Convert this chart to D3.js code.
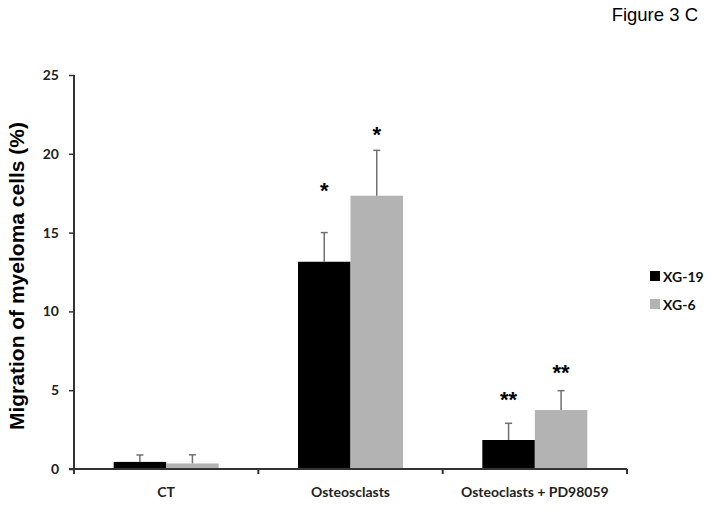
<!DOCTYPE html>
<html><head><meta charset="utf-8">
<script src="https://cdn.jsdelivr.net/npm/d3@7"></script>
<style>body{margin:0;background:#fff}</style>
</head><body>
<svg id="c" width="712" height="510"></svg>
<script>
const categories = ["CT", "Osteosclasts", "Osteoclasts + PD98059"];
const seriesNames = ["XG-19", "XG-6"];
const xg19 = [0.45, 13.15, 1.84];
const xg6 = [0.35, 17.34, 3.74];
const xg19Err = [0.44, 1.85, 1.06];
const xg6Err = [0.55, 2.88, 1.23];
const stars = [
  {cat: "Osteosclasts", s: "XG-19", label: "*", y: 17.9},
  {cat: "Osteosclasts", s: "XG-6", label: "*", y: 21.45},
  {cat: "Osteoclasts + PD98059", s: "XG-19", label: "**", y: 4.65},
  {cat: "Osteoclasts + PD98059", s: "XG-6", label: "**", y: 6.35}
];
const yTicks = [0, 5, 10, 15, 20, 25];
const colors = ["#000000", "#b3b3b3"];

const svg = d3.select("#c");
const x0 = 74, x1 = 627, y0 = 469, y1 = 75;
const x = d3.scaleBand().domain(categories).range([x0, x1]).paddingInner(0).paddingOuter(0);
const xs = d3.scaleBand().domain(seriesNames).range([0, 105]);
const y = d3.scaleLinear().domain([0, 25]).range([y0, y1]);
const barOff = (x.bandwidth() - 105) / 2;

const data = [];
categories.forEach((c, i) => {
  data.push({cat: c, s: "XG-19", v: xg19[i], e: xg19Err[i], col: colors[0]});
  data.push({cat: c, s: "XG-6", v: xg6[i], e: xg6Err[i], col: colors[1]});
});

// bars
svg.append("g").selectAll("rect").data(data).join("rect")
  .attr("x", d => x(d.cat) + barOff + xs(d.s))
  .attr("y", d => y(d.v))
  .attr("width", xs.bandwidth())
  .attr("height", d => y0 - y(d.v))
  .attr("fill", d => d.col);

// error bars
const eg = svg.append("g").attr("stroke", "#707070").attr("stroke-width", 1.5);
data.forEach(d => {
  const cx = x(d.cat) + barOff + xs(d.s) + xs.bandwidth() / 2;
  eg.append("line").attr("x1", cx).attr("x2", cx).attr("y1", y(d.v)).attr("y2", y(d.v + d.e));
  eg.append("line").attr("x1", cx - 3.5).attr("x2", cx + 3.5).attr("y1", y(d.v + d.e)).attr("y2", y(d.v + d.e));
});

// stars
svg.append("g").selectAll("text").data(stars).join("text")
  .attr("x", d => x(d.cat) + barOff + xs(d.s) + xs.bandwidth() / 2)
  .attr("y", d => y(d.y) + 11)
  .attr("text-anchor", "middle")
  .attr("font-family", "Liberation Sans, Arial, sans-serif")
  .attr("font-weight", "bold")
  .attr("font-size", 22)
  .attr("fill", "#000")
  .text(d => d.label);

// y axis
const yAxis = d3.axisLeft(y).tickValues(yTicks).tickSize(5).tickPadding(10).tickFormat(d3.format("d"));
const ya = svg.append("g").attr("transform", `translate(${x0},0)`).call(yAxis);
ya.select(".domain").attr("d", `M0,${y1}V${y0 + 5}`).attr("stroke", "#333").attr("stroke-width", 2);
ya.selectAll(".tick line").attr("stroke", "#333").attr("stroke-width", 1.5);
ya.selectAll(".tick text").attr("font-family", "Lato, sans-serif").attr("font-weight", "bold")
  .attr("font-size", 14).attr("fill", "#222");

// x axis
const xa = svg.append("g").attr("transform", `translate(0,${y0})`);
xa.append("path").attr("d", `M${x0 - 5},0H${x1}`).attr("stroke", "#333").attr("stroke-width", 2).attr("fill", "none");
const bounds = categories.map(c => x(c) + x.bandwidth());
xa.selectAll("line.tk").data(bounds).join("line").attr("class", "tk")
  .attr("x1", d => d).attr("x2", d => d).attr("y1", 0).attr("y2", 5)
  .attr("stroke", "#333").attr("stroke-width", 2);
xa.selectAll("text").data(categories).join("text")
  .attr("x", d => x(d) + x.bandwidth() / 2)
  .attr("y", 28)
  .attr("text-anchor", "middle")
  .attr("font-family", "Lato, sans-serif").attr("font-weight", "bold")
  .attr("font-size", 14).attr("fill", "#222")
  .text(d => d);

// y title
svg.append("text")
  .attr("transform", `translate(24,276) rotate(-90)`)
  .attr("text-anchor", "middle")
  .attr("font-family", "Liberation Sans, Arial, sans-serif").attr("font-weight", "bold")
  .attr("font-size", 21).attr("fill", "#000")
  .text("Migration of myeloma cells (%)");

// figure label
svg.append("text")
  .attr("x", 698).attr("y", 21)
  .attr("text-anchor", "end")
  .attr("font-family", "Liberation Sans, Arial, sans-serif")
  .attr("font-size", 18.5).attr("fill", "#000")
  .text("Figure 3 C");

// legend
const lg = svg.append("g").selectAll("g").data(seriesNames).join("g")
  .attr("transform", (d, i) => `translate(650,${271 + i * 28})`);
lg.append("rect").attr("width", 10).attr("height", 10).attr("fill", (d, i) => colors[i]);
lg.append("text").attr("x", 13).attr("y", 10.5)
  .attr("font-family", "Lato, sans-serif").attr("font-weight", "bold")
  .attr("font-size", 14).attr("fill", "#111")
  .text(d => d);
</script>
</body></html>
